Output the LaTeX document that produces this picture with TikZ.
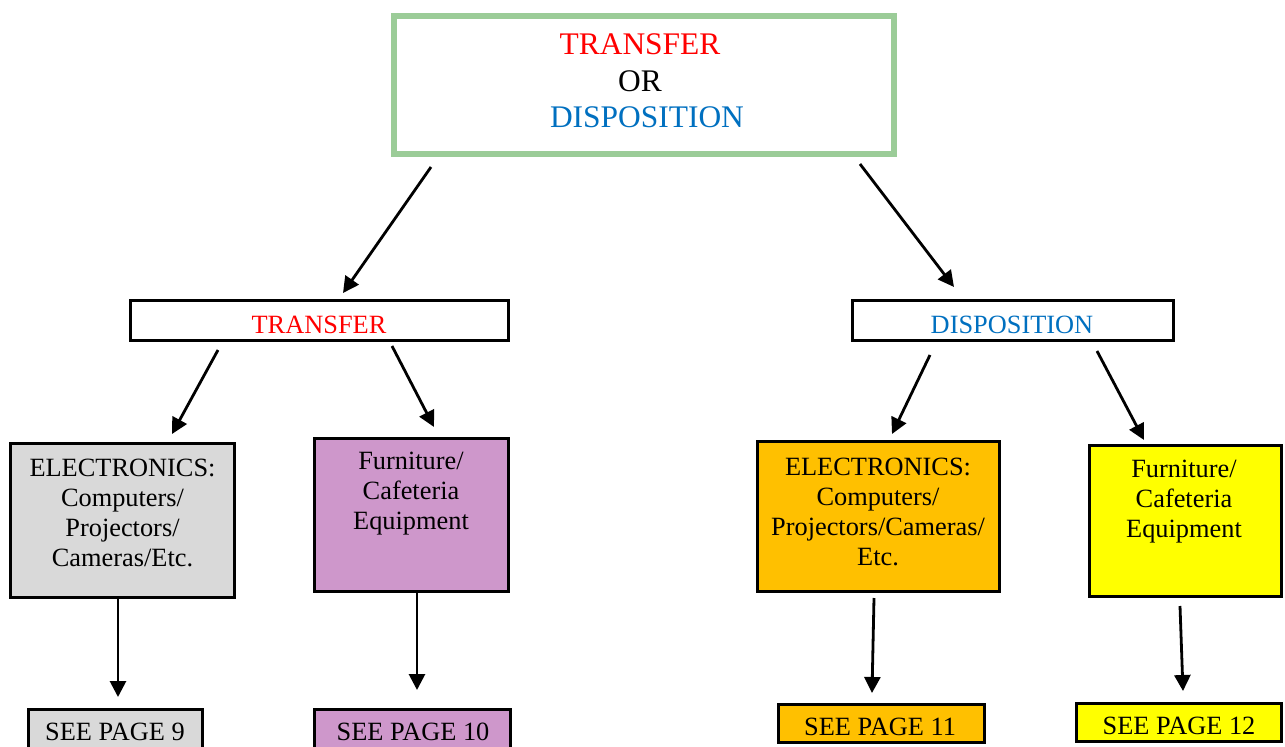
\documentclass[tikz,border=0pt]{standalone}
\usepackage{fontspec}
\setmainfont{Liberation Serif}
\usetikzlibrary{arrows.meta}
\newdimen\pxu \pxu=0.02cm
\definecolor{tred}{HTML}{FF0000}
\definecolor{tblue}{HTML}{0070C0}
\definecolor{tgreen}{RGB}{155,204,152}
\definecolor{cgray}{HTML}{D9D9D9}
\definecolor{cpurple}{HTML}{CE97CB}
\definecolor{corange}{HTML}{FFC000}
\definecolor{cyellow}{HTML}{FFFF00}
\newcommand\fl{\rule{0pt}{20\pxu}}
\newcommand\flbig{\rule{0pt}{25\pxu}}
\tikzset{
  box/.style={draw=black, line width=0.058cm, inner sep=0pt, rectangle},
  topbox/.style={draw=tgreen, line width=0.12cm, inner sep=0pt, rectangle, fill=white},
  txt/.style={inner sep=0pt, anchor=north, align=center, font=\fontsize{15}{17.07}\selectfont},
  bigtxt/.style={inner sep=0pt, anchor=north, align=center, font=\fontsize{17.9}{20.9}\selectfont},
  arr/.style={line width=0.056cm, -{Triangle[length=0.32cm,width=0.32cm]}}
}
\begin{document}
\begin{tikzpicture}[x=0.02cm,y=-0.02cm]
\clip (0,0) rectangle (1285,747);
\fill[white] (0,0) rectangle (1285,747);
% boxes
\node[topbox, minimum width=10cm, minimum height=2.76cm] (top) at (644,85) {};
\node[box, fill=white, minimum width=7.57cm, minimum height=0.81cm] (midT) at (319.5,320.5) {};
\node[box, fill=white, minimum width=6.43cm, minimum height=0.81cm] (midD) at (1013,320.5) {};
\node[box, fill=cgray, minimum width=4.49cm, minimum height=3.09cm] (elecL) at (122.5,520.5) {};
\node[box, fill=cpurple, minimum width=3.89cm, minimum height=3.07cm] (furnL) at (411.5,515) {};
\node[box, fill=corange, minimum width=4.85cm, minimum height=3.01cm] (elecR) at (878.5,516.5) {};
\node[box, fill=cyellow, minimum width=3.85cm, minimum height=3.03cm] (furnR) at (1185.5,521) {};
\node[box, fill=cgray, minimum width=3.49cm, minimum height=0.79cm] (see9) at (115.5,729) {};
\node[box, fill=cpurple, minimum width=3.93cm, minimum height=0.79cm] (see10) at (412.5,729) {};
\node[box, fill=corange, minimum width=4.13cm, minimum height=0.77cm] (see11) at (881.5,723.5) {};
\node[box, fill=cyellow, minimum width=4.11cm, minimum height=0.77cm] (see12) at (1179,722.5) {};
% texts
\node[bigtxt] (tTop) at (640,29) {{\color{tred}\flbig TRANSFER}\\OR\\\hspace*{0.28cm}{\color{tblue}DISPOSITION}};
\node[txt] (tMidT) at (319,312.7) {\fl{\color{tred}TRANSFER}};
\node[txt] (tMidD) at (1012,312.7) {\fl{\color{tblue}DISPOSITION}};
\node[txt] (tElecL) at (122.5,455.7) {\fl ELECTRONICS:\\Computers/\\Projectors/\\Cameras/Etc.};
\node[txt] (tFurnL) at (411,449) {\fl Furniture/\\Cafeteria\\Equipment};
\node[txt] (tElecR) at (878,455) {\fl ELECTRONICS:\\Computers/\\Projectors/Cameras/\\Etc.};
\node[txt] (tFurnR) at (1184,456.7) {\fl Furniture/\\Cafeteria\\Equipment};
\node[txt] (tSee9) at (115,720) {\fl SEE PAGE 9};
\node[txt] (tSee10) at (413,720) {\fl SEE PAGE 10};
\node[txt] (tSee11) at (880,715) {\fl SEE PAGE 11};
\node[txt] (tSee12) at (1179,714) {\fl SEE PAGE 12};
% connector end points
\coordinate (a1s) at (431,167); \coordinate (a1e) at (343,293);
\coordinate (a2s) at (860,164); \coordinate (a2e) at (954,287);
\coordinate (a3s) at (218,350); \coordinate (a3e) at (172,434);
\coordinate (a4s) at (392,346); \coordinate (a4e) at (434,427);
\coordinate (a5s) at (930,355); \coordinate (a5e) at (892,434);
\coordinate (a6s) at (1097,351); \coordinate (a6e) at (1144,440);
\coordinate (a7s) at (118,599); \coordinate (a7e) at (118,697);
\coordinate (a8s) at (417,593); \coordinate (a8e) at (417,690);
\coordinate (a9s) at (874,598); \coordinate (a9e) at (872,693);
\coordinate (a10s) at (1180,606); \coordinate (a10e) at (1183,691);
% connectors
\draw[arr] (a1s) -- (a1e);
\draw[arr] (a2s) -- (a2e);
\draw[arr] (a3s) -- (a3e);
\draw[arr] (a4s) -- (a4e);
\draw[arr] (a5s) -- (a5e);
\draw[arr] (a6s) -- (a6e);
\draw[arr] (a7s) -- (a7e);
\draw[arr] (a8s) -- (a8e);
\draw[arr] (a9s) -- (a9e);
\draw[arr] (a10s) -- (a10e);
\end{tikzpicture}
\end{document}
